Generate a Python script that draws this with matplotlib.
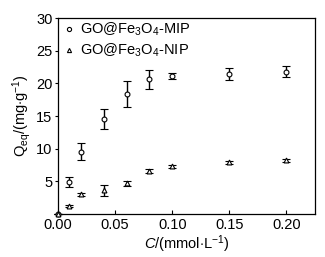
import matplotlib
matplotlib.use("Agg")
import matplotlib.pyplot as plt
from matplotlib.lines import Line2D

plt.rcParams['font.family'] = ['Liberation Sans', 'DejaVu Sans']
plt.rcParams['mathtext.fontset'] = 'custom'
plt.rcParams['mathtext.rm'] = 'Liberation Sans'
plt.rcParams['mathtext.it'] = 'Liberation Sans:italic'

conc = [0.0, 0.01, 0.02, 0.04, 0.06, 0.08, 0.10, 0.15, 0.20]
mip = [0.0, 4.9, 9.5, 14.5, 18.4, 20.6, 21.1, 21.4, 21.8]
mip_err = [0.0, 0.7, 1.3, 1.5, 2.0, 1.5, 0.5, 0.9, 0.9]
nip = [0.0, 1.2, 3.0, 3.6, 4.7, 6.6, 7.3, 7.9, 8.2]
nip_err = [0.0, 0.2, 0.2, 0.9, 0.4, 0.3, 0.2, 0.2, 0.2]

xticks = [0.00, 0.05, 0.10, 0.15, 0.20]
xticklabels = ['0.00', '0.05', '0.10', '0.15', '0.20']
yticks = [5, 10, 15, 20, 25, 30]

fig = plt.figure(figsize=(3.25, 2.57), dpi=100)
ax = fig.add_axes([58/325, 1-214/257, (315-58)/325, (214-18)/257])

for y, e, m in [(mip, mip_err, 'o'), (nip, nip_err, '^')]:
    ax.errorbar(conc, y, yerr=e, fmt=m, ms=3.5, mfc='white', mec='black',
                mew=0.8, ecolor='black', elinewidth=1.0, capsize=3, capthick=1.0,
                clip_on=False, zorder=3)

handles = [Line2D([], [], ls='none', marker='o', ms=3, mfc='white', mec='black', mew=0.8),
           Line2D([], [], ls='none', marker='^', ms=3, mfc='white', mec='black', mew=0.8)]
labels = [r'GO@Fe$_3$O$_4$-MIP', r'GO@Fe$_3$O$_4$-NIP']

ax.set_xlim(0, 0.225)
ax.set_ylim(0, 30)
ax.set_xticks(xticks)
ax.set_xticklabels(xticklabels)
ax.set_yticks(yticks)
ax.tick_params(axis='x', direction='in', length=3, labelsize=10.5, pad=3)
ax.tick_params(axis='y', direction='out', length=2, labelsize=10.5, pad=2)
for s in ax.spines.values():
    s.set_linewidth(0.9)

ax.set_xlabel(r'$\mathit{C}$/(mmol$\cdot$L$^{-1}$)', fontsize=10.5, labelpad=1)
ax.set_ylabel(r'Q$_{\rm eq}$/(mg$\cdot$g$^{-1}$)', fontsize=10.5, labelpad=2)

ax.legend(handles, labels, loc='upper left', frameon=False, fontsize=10.5,
          handlelength=0.8, handletextpad=0.3, borderaxespad=0.0,
          borderpad=0.2, labelspacing=0.25, bbox_to_anchor=(0.01, 1.0))

fig.savefig('out.png', dpi=100)
